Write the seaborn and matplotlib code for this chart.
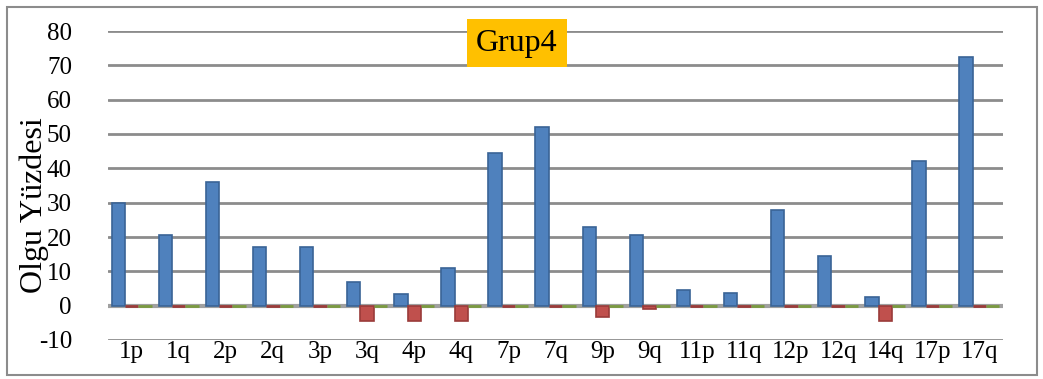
import pandas as pd
import seaborn as sns
import matplotlib.pyplot as plt
from matplotlib.patches import Rectangle

# data
bolgeler = ['1p', '1q', '2p', '2q', '3p', '3q', '4p', '4q', '7p', '7q',
            '9p', '9q', '11p', '11q', '12p', '12q', '14q', '17p', '17q']
kazanc = [30, 20.5, 36, 17, 17, 7, 3.5, 11, 44.5, 52,
          23, 20.5, 4.7, 3.7, 27.8, 14.5, 2.5, 42.2, 72.5]
kayip = [0, 0, 0, 0, 0, -4.5, -4.5, -4.5, 0, 0,
         -3.3, -1, 0, 0, 0, 0, -4.5, 0, 0]
diger = [0] * len(bolgeler)

seriler = ['Kazanç', 'Kayıp', 'Diğer']
renkler = ['#4F81BD', '#C0504D', '#9BBB59']
kenar = ['#3A6496', '#9A3B39', '#7A9A40']

df = pd.DataFrame({
    'bolge': bolgeler * 3,
    'deger': kazanc + kayip + diger,
    'seri': [seriler[0]] * len(bolgeler) + [seriler[1]] * len(bolgeler)
            + [seriler[2]] * len(bolgeler),
})

sns.set_style('white')
plt.rcParams['font.family'] = ['Liberation Serif', 'DejaVu Serif']
plt.rcParams['axes.unicode_minus'] = False
for k in ['text.color', 'axes.labelcolor', 'xtick.color', 'ytick.color']:
    plt.rcParams[k] = 'black'

fig = plt.figure(figsize=(10.43, 3.79), dpi=100)
ax = fig.add_axes([108 / 1043, 1 - 340 / 379, 895 / 1043, 309 / 379])

sns.barplot(data=df, x='bolge', y='deger', hue='seri', palette=renkler,
            saturation=1, width=0.85, legend=False, ax=ax, zorder=3)
for cont, ec in zip(ax.containers, kenar):
    for p in cont:
        p.set_edgecolor(ec)
        p.set_linewidth(1.2 if p.get_height() != 0 else 2)

ax.set_ylim(-10, 80)
ax.set_yticks(range(-10, 81, 10))
ax.yaxis.grid(True, color='#8c8c8c', linewidth=2, zorder=0)
ax.axhline(0, color='#a0a0a0', linewidth=3, zorder=1)
ax.set_axisbelow(True)
for s in ax.spines.values():
    s.set_visible(False)

ax.tick_params(axis='y', labelsize=18, pad=26, length=0)
ax.tick_params(axis='x', labelsize=18, pad=1, length=0)
ax.set_xlabel('')
ax.set_ylabel('Olgu Yüzdesi', fontsize=23)
ax.yaxis.set_label_coords(-0.066, 0.437)

ax.text(0.457, 0.96, 'Grup4', transform=ax.transAxes, fontsize=23,
        ha='center', va='center',
        bbox=dict(boxstyle='square,pad=0.3', facecolor='#FFC000', edgecolor='none'))

fig.patches.append(Rectangle((7 / 1043, 4 / 379), 1030 / 1043, 368 / 379,
                             transform=fig.transFigure, fill=False,
                             edgecolor='#8c8c8c', linewidth=1.5))

plt.savefig('out.png', dpi=100)
